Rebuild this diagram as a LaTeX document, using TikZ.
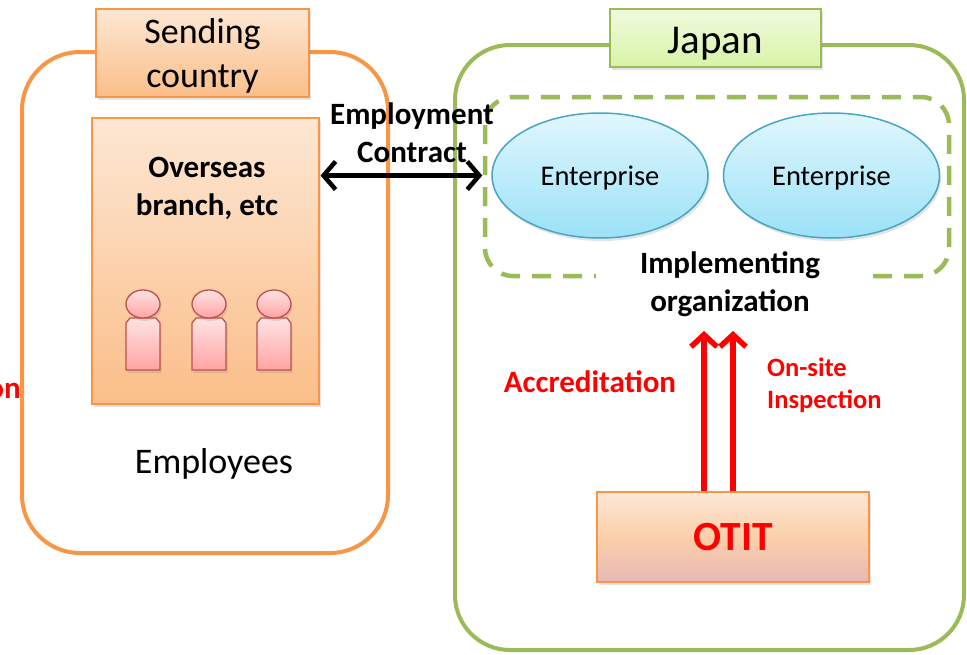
\documentclass[tikz,border=0pt]{standalone}
\usepackage{fontspec}
\setmainfont{Carlito}
\usetikzlibrary{arrows.meta,shadows,shapes.geometric}
\definecolor{orgline}{HTML}{F79646}
\definecolor{peachtop}{HTML}{FDE7D3}
\definecolor{peachbot}{HTML}{FBBE89}
\definecolor{grnline}{HTML}{9BBB59}
\definecolor{grntop}{HTML}{F0FADF}
\definecolor{grnbot}{HTML}{D8F4A6}
\definecolor{bluetop}{HTML}{E1F7FE}
\definecolor{bluebot}{HTML}{9BE1F7}
\definecolor{blueline}{HTML}{48A6C4}
\definecolor{pinktop}{HTML}{FFE3E3}
\definecolor{pinkbot}{HTML}{FFA3A3}
\definecolor{pinkline}{HTML}{C0504D}
\definecolor{otittop}{HTML}{FDE8D8}
\definecolor{otitmid}{HTML}{FCCFA8}
\definecolor{otitbot}{HTML}{E6B9B8}
\definecolor{redtxt}{HTML}{FF0000}
\tikzset{
  softshadow/.style={drop shadow={opacity=0.22,shadow xshift=1.5pt,shadow yshift=-3pt}},
  frameorg/.style={draw=orgline,line width=4pt,rounded corners=58pt},
  framegrn/.style={draw=grnline,line width=4pt,rounded corners=55pt},
  labelorg/.style={draw=orgline,line width=1.5pt,top color=peachtop,bottom color=peachbot,softshadow,inner sep=0pt,align=center},
  labelgrn/.style={draw=grnline,line width=1.5pt,top color=grntop,bottom color=grnbot,softshadow,inner sep=0pt,align=center},
  entbox/.style={ellipse,draw=blueline,line width=1.5pt,top color=bluetop,bottom color=bluebot,softshadow,minimum width=216pt,minimum height=125pt,inner sep=0pt},
  enttext/.style={inner sep=0pt,font=\fontsize{28.5}{34}\selectfont},
  personshape/.style={draw=pinkline,line width=1.3pt,top color=pinktop,bottom color=pinkbot,softshadow},
  boldtxt/.style={font=\fontsize{31}{38}\selectfont\bfseries,align=center,inner sep=0pt},
  redtext/.style={text=redtxt,font=\fontsize{31}{38}\selectfont\bfseries,inner sep=0pt},
  redsmall/.style={text=redtxt,font=\fontsize{26.5}{32}\selectfont\bfseries,inner sep=0pt,align=left},
  blackarrow/.style={line width=4.5pt,{Straight Barb[length=12pt,width=28pt]}-{Straight Barb[length=12pt,width=28pt]}},
  redarrow/.style={draw=redtxt,line width=5.5pt,-{Straight Barb[length=12pt,width=26pt]}}
}
\begin{document}
\begin{tikzpicture}[x=1pt,y=-1pt]
\useasboundingbox[fill=white] (0,0) rectangle (967,654);

% outer frames
\draw[framegrn] (455,45) rectangle (964,650);
\draw[frameorg] (22,52) rectangle (388,553);

% country labels
\node[labelorg,minimum width=213pt,minimum height=88pt] (sending) at (202.5,53) {};
\node[inner sep=0pt,align=center,font=\fontsize{36}{44}\selectfont] (sendtxt) at (202.5,56) {Sending\\country};
\node[labelgrn,minimum width=211pt,minimum height=58pt] (japanbox) at (715.5,38) {};
\node[anchor=base,inner sep=0pt,font=\fontsize{41}{48}\selectfont] (japan) at (715,53) {Japan};

% overseas branch
\node[labelorg,line width=1.2pt,minimum width=227pt,minimum height=286pt] (ov) at (205.5,261) {};
\node[boldtxt] (ovtext) at (207,188) {Overseas\\branch, etc};
\foreach \px/\nm in {143/p1,209/p2,274/p3}{
  \path[personshape] (\px-17,370) -- (\px-17,323) -- (\px-13,318) -- (\px+13,318) -- (\px+17,323) -- (\px+17,370) -- cycle;
  \path[personshape] (\px,304) ellipse [x radius=17, y radius=14];
}
\node[inner sep=0pt,font=\fontsize{36}{44}\selectfont] (employees) at (214,464) {Employees};
\node[redtext,anchor=base east] (ontxt) at (21,398) {on};

% implementing organization
\draw[draw=grnline,line width=4.5pt,dash pattern=on 19pt off 12pt,rounded corners=28pt] (485,97) rectangle (949,276);
\node[entbox] (ent1) at (600,175.5) {};
\node[entbox] (ent2) at (831.5,175.5) {};
\node[enttext,anchor=base] (ent1txt) at (600,185) {Enterprise};
\node[enttext,anchor=base] (ent2txt) at (831.5,185) {Enterprise};
\node[boldtxt,fill=white,minimum width=268pt] (impl) at (730,284) {Implementing\\organization};

% employment contract
\node[boldtxt] (contract) at (412,133) {Employment\\Contract};
\draw[blackarrow] ([xshift=1pt]ov.east |- ent1.west) -- ([xshift=-9pt]ent1.west);

% OTIT
\node[draw=orgline,line width=1.5pt,top color=otittop,bottom color=otitbot,middle color=otitmid,softshadow,minimum width=272pt,minimum height=90pt,inner sep=0pt,text=redtxt,font=\fontsize{41.5}{48}\selectfont\bfseries] (otit) at (733,537) {OTIT};
\coordinate (acc) at (704,331);
\coordinate (insp) at (733,331);
\draw[redarrow] (otit.north -| acc) -- (acc);
\draw[redarrow] (otit.north -| insp) -- (insp);
\node[redtext,anchor=base] (acctxt) at (590,392) {Accreditation};
\node[redsmall,anchor=west] (insptxt) at (767,385) {On-site\\Inspection};
\end{tikzpicture}
\end{document}
